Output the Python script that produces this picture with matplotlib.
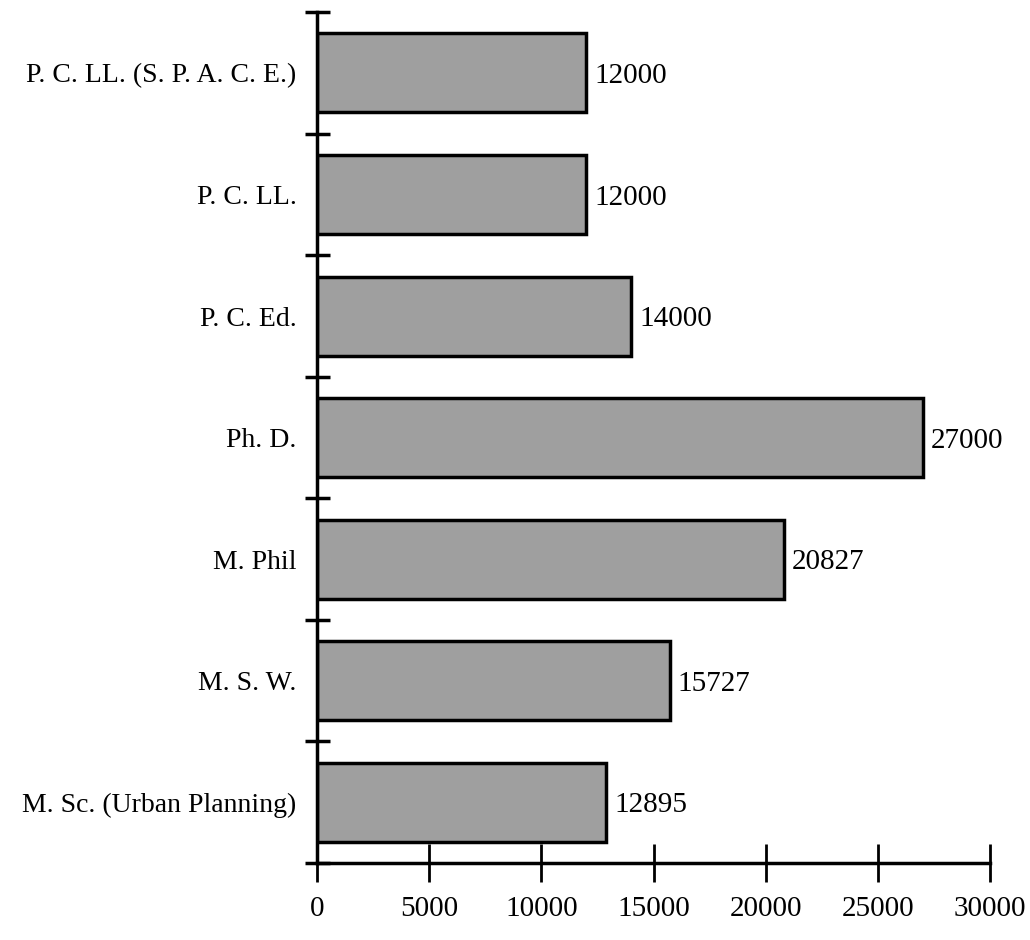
import matplotlib.pyplot as plt

courses = ['M. Sc. (Urban Planning)', 'M. S. W.', 'M. Phil', 'Ph. D.',
           'P. C. Ed.', 'P. C. LL.', 'P. C. LL. (S. P. A. C. E.)']
fees = [12895, 15727, 20827, 27000, 14000, 12000, 12000]
x_ticks = [0, 5000, 10000, 15000, 20000, 25000, 30000]

plt.rcParams['font.family'] = ['Liberation Serif', 'DejaVu Serif']

fig = plt.figure(figsize=(10.3, 9.4), dpi=100)
ax = fig.add_axes([0.308, 0.082, 0.653, 0.905])

pos = list(range(len(courses)))
ax.barh(pos, fees, height=0.65, color='#9f9f9f', edgecolor='black', linewidth=2.5)

for y, v in zip(pos, fees):
    ax.text(v + 350, y, f'{v}', va='center_baseline', ha='left', fontsize=21)

ax.set_xlim(0, 30000)
ax.set_ylim(-0.5, len(courses) - 0.5)

# category ticks sit on the boundaries between bars, labels in the middle
ax.set_yticks([p - 0.5 for p in pos] + [len(courses) - 0.5])
ax.set_yticklabels([])
ax.set_yticks(pos, minor=True)
ax.set_yticklabels(courses, minor=True, fontsize=20)
ax.tick_params(axis='y', which='major', direction='inout', length=18, width=2.5)
ax.tick_params(axis='y', which='minor', length=0, pad=15)

ax.set_xticks(x_ticks)
ax.set_xticklabels([str(t) for t in x_ticks], fontsize=21)
ax.tick_params(axis='x', direction='inout', length=28, width=2, pad=10)

for side in ['top', 'right']:
    ax.spines[side].set_visible(False)
ax.spines['left'].set_linewidth(2.5)
ax.spines['bottom'].set_linewidth(2.5)

fig.savefig('out.png', dpi=100)
